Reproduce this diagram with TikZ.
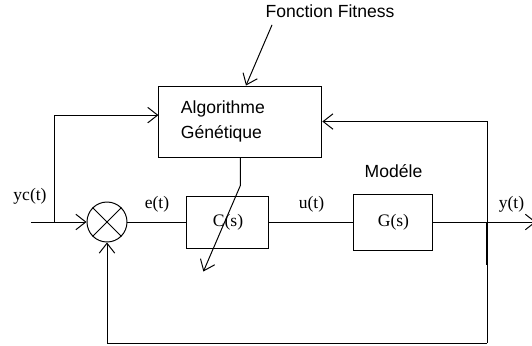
\documentclass[tikz,border=0pt]{standalone}
\usepackage{fontspec}
\setmainfont{Liberation Serif}
\setsansfont{Liberation Sans}
\usetikzlibrary{arrows.meta, positioning, calc}
\newcommand{\rmlabel}{\fontsize{12.5}{15}\selectfont}
\newcommand{\sflabel}{\sffamily\fontsize{12.5}{17.5}\selectfont}
\tikzset{
  block/.style   = {draw, rectangle, font=\rmlabel},
  sumnode/.style = {draw, circle, minimum size=1cm, inner sep=0pt},
  lbl/.style     = {inner sep=1pt, font=\rmlabel},
  slbl/.style    = {inner sep=1pt, font=\sflabel},
  arr/.style     = {-{Straight Barb[length=7pt, width=11pt]}}
}

\begin{document}
\begin{tikzpicture}[line width=0.7pt]
  \useasboundingbox (0,0) rectangle (13.3,-8.625);
  \node[sumnode] (sum) at (2.675,-5.55) {};
  \node[block, minimum width=2.05cm, minimum height=1.3cm, right=1.475cm of sum] (ctrl) {C(s)};
  \node[block, minimum width=1.975cm, minimum height=1.4cm, right=2.1cm of ctrl] (plant) {G(s)};
  \node[block, font=\sflabel, text width=2.975cm, inner xsep=0.55cm, minimum height=1.775cm,
        align=left, above=0.95cm of ctrl, xshift=0.31cm] (ag) {Algorithme\\Génétique};
  \node[slbl] (fitness) at ([xshift=2.24cm, yshift=1.85cm]ag.north) {Fonction Fitness};
  \node[slbl, above=0.35cm of plant] (model) {Modéle};
  \node[lbl] (yc) at (0.75,-4.9) {yc(t)};

  \coordinate (in)    at (0.775,-5.55);
  \coordinate (split) at (1.35,-5.55);
  \coordinate (tap)   at (12.175,-5.55);
  \coordinate (out)   at (13.4,-5.55);
  \coordinate (low)   at (12.175,-8.575);

  % summing junction
  \draw (sum.north west) -- (sum.south east);
  \draw (sum.north east) -- (sum.south west);

  \draw[arr] (in) -- (sum);
  \draw[arr] (split) |- ([yshift=0.16cm]ag.west);
  \draw (sum) -- node[lbl, above=0.19cm] {e(t)} (ctrl);
  \draw (ctrl) -- node[lbl, above=0.19cm] {u(t)} (plant);
  \draw (plant) -- (tap);
  \draw[arr] (tap) -- node[lbl, above=0.19cm] {y(t)} (out);
  \draw[arr] (low) -- (tap |- ag.east) -- (ag.east);
  \draw[arr] (low) -| (sum.south);
  \draw[line width=1.4pt] (tap) -- ++(0,-1.075);

  % tuning of C(s)
  \draw[arr] (ag.south) -- ++(0,-0.7) -- ++(-0.925,-2.15);
  \draw[arr] ([xshift=0.21cm, yshift=-0.125cm]fitness.south west) -- ([xshift=0.14cm]ag.north);
\end{tikzpicture}
\end{document}
